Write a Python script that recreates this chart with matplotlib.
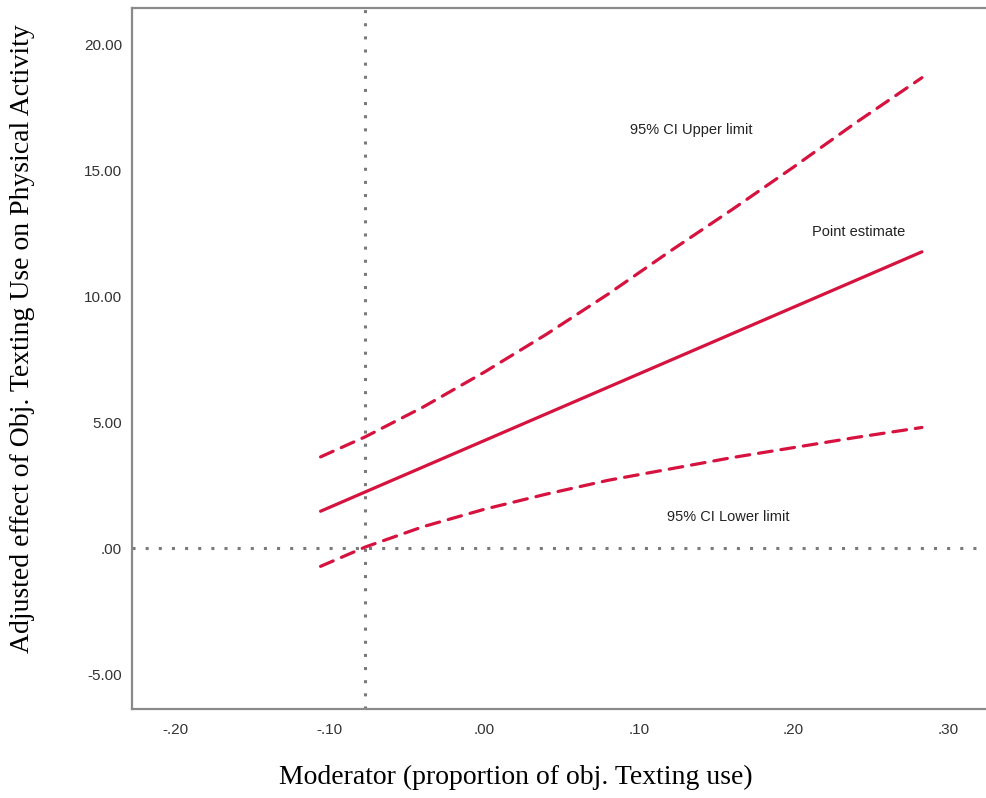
import matplotlib.pyplot as plt

# Johnson-Neyman style plot: conditional effect across the moderator
moderator = [-0.106, -0.077, -0.04, 0.00, 0.04, 0.08, 0.12, 0.16, 0.20, 0.24, 0.283]
point_estimate = [1.47, 2.24, 3.22, 4.28, 5.34, 6.40, 7.46, 8.52, 9.58, 10.64, 11.78]
upper_limit = [3.63, 4.43, 5.6, 7.0, 8.5, 10.1, 11.8, 13.45, 15.15, 16.9, 18.7]
lower_limit = [-0.72, 0.05, 0.85, 1.55, 2.15, 2.7, 3.15, 3.6, 4.0, 4.4, 4.8]

jn_point = -0.077
x_ticks = [-0.2, -0.1, 0.0, 0.1, 0.2, 0.3]
x_tick_labels = ['-.20', '-.10', '.00', '.10', '.20', '.30']
y_ticks = [-5, 0, 5, 10, 15, 20]
y_tick_labels = ['-5.00', '.00', '5.00', '10.00', '15.00', '20.00']

red = '#d6123f'
grey = '#7a7a7a'

fig = plt.figure(figsize=(9.87, 7.98), dpi=100)
ax = fig.add_axes([0.1337, 0.1115, 0.874, 0.8785])

ax.axhline(0, color=grey, lw=2.2, linestyle=(0, (1, 3.3)), zorder=1)
ax.axvline(jn_point, color=grey, lw=2.2, linestyle=(0, (1, 3.3)), zorder=1)

ax.plot(moderator, point_estimate, color=red, lw=2.3, solid_capstyle='round')
ax.plot(moderator, upper_limit, color=red, lw=2.3, linestyle=(0, (4.3, 2.8)), dash_capstyle='round')
ax.plot(moderator, lower_limit, color=red, lw=2.3, linestyle=(0, (4.3, 2.8)), dash_capstyle='round')

txt = dict(fontsize=10.5, family='Liberation Sans', color='#222222', va='center')
ax.text(0.094, 16.64, '95% CI Upper limit', **txt)
ax.text(0.212, 12.55, 'Point estimate', **txt)
ax.text(0.118, 1.23, '95% CI Lower limit', **txt)

ax.set_xlim(-0.228, 0.33)
ax.set_ylim(-6.39, 21.47)
ax.set_xticks(x_ticks)
ax.set_xticklabels(x_tick_labels)
ax.set_yticks(y_ticks)
ax.set_yticklabels(y_tick_labels)
ax.tick_params(length=0, labelsize=11, labelcolor='#333333')
ax.tick_params(axis='x', pad=10)
ax.tick_params(axis='y', pad=7)
for lab in ax.get_xticklabels() + ax.get_yticklabels():
    lab.set_family('Liberation Sans')

for side in ['left', 'bottom', 'top']:
    ax.spines[side].set_color('#8a8a8a')
    ax.spines[side].set_linewidth(1.6)
ax.spines['right'].set_visible(False)

ax.set_xlabel('Moderator (proportion of obj. Texting use)', family='Liberation Serif',
              fontsize=20, va='center')
ax.xaxis.set_label_coords(0.445, -0.097)
ax.set_ylabel('Adjusted effect of Obj. Texting Use on Physical Activity', family='Liberation Serif',
              fontsize=20, va='center')
ax.yaxis.set_label_coords(-0.127, 0.529)

fig.savefig('out.png', dpi=100)
